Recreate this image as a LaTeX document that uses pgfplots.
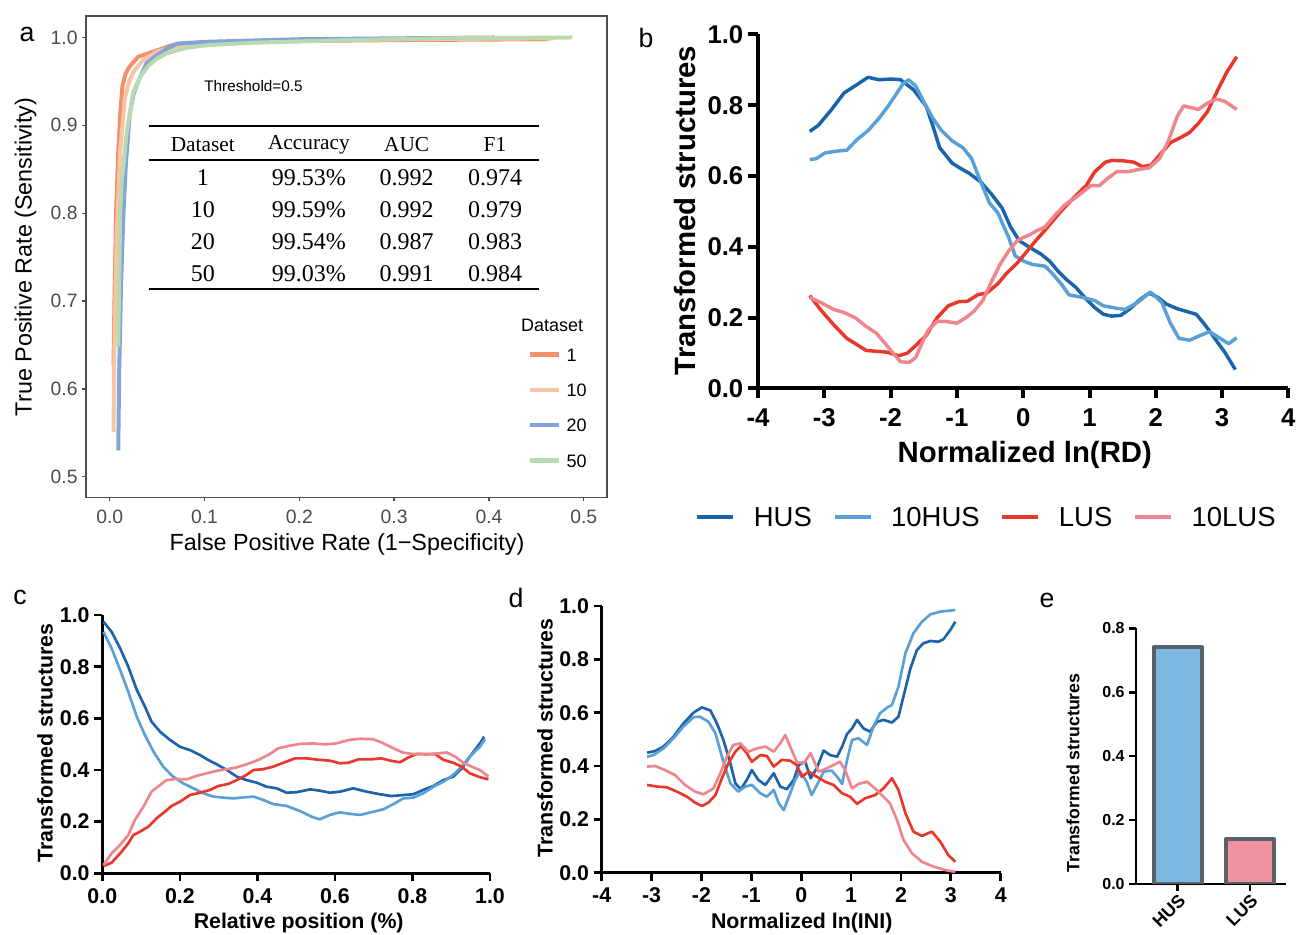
\documentclass[border=0pt]{standalone}
\usepackage{fontspec}
\setmainfont{Liberation Sans}
\newfontfamily\tabfont{Liberation Serif}
\usepackage{pgfplots}
\pgfplotsset{compat=1.18}

\definecolor{dOne}{HTML}{F3906C}
\definecolor{dTen}{HTML}{F5C6A6}
\definecolor{dTwenty}{HTML}{83A3DA}
\definecolor{dFifty}{HTML}{B9DAAE}
\definecolor{hus}{HTML}{1B63AB}
\definecolor{hus10}{HTML}{5A9FD5}
\definecolor{lus}{HTML}{E8382B}
\definecolor{lus10}{HTML}{F0868D}
\definecolor{barHUS}{HTML}{7DB8E3}
\definecolor{barLUS}{HTML}{F0939E}
\definecolor{barEdge}{HTML}{5A6269}
\definecolor{ggframe}{HTML}{4D4D4D}

\newcommand{\fs}[1]{\fontsize{#1}{#1}\selectfont}

\pgfplotsset{
  /pgf/number format/assume math mode=true,
  onedec/.style={/pgf/number format/fixed, /pgf/number format/fixed zerofill, /pgf/number format/precision=1},
  prism/.style={
    scale only axis, anchor=south west,
    axis lines=left, axis line style={-, black, line width=#1},
    tick align=outside, major tick length=6pt,
    tick style={black, line width=#1},
    enlargelimits=false,
    yticklabel style={onedec},
    every axis plot/.append style={no markers, line join=round},
  },
}

\begin{document}
\begin{tikzpicture}[x=0.75pt, y=0.75pt]
\useasboundingbox (0,0) rectangle (1297,935);

% ---------------- a: ROC ----------------
\begin{axis}[
  scale only axis, anchor=south west, at={(64.725pt,328.125pt)},
  width=390.3pt, height=361.35pt,
  xmin=-0.0247, xmax=0.5242, ymin=0.4764, ymax=1.0248,
  axis line style={ggframe, line width=1.3pt},
  xtick={0,0.1,0.2,0.3,0.4,0.5}, ytick={0.5,0.6,0.7,0.8,0.9,1.0},
  tick pos=left, tick align=outside, major tick length=3pt,
  tick style={ggframe, line width=1pt},
  ticklabel style={font=\fs{14.5}, text=black!70},
  xticklabel style={onedec, yshift=-3pt}, yticklabel style={onedec},
  every axis plot/.append style={no markers, line width=3pt, line join=round},
  legend cell align=left,
  legend style={at={(0.8488,0.3105)}, anchor=north west, draw=none, fill=none,
    inner sep=0pt, outer sep=0pt, row sep=16.5pt,
    nodes={inner sep=0pt, text height=10pt, text depth=0pt, font=\fs{13.5}}},
  legend image code/.code={\draw[#1, line width=3.2pt] (0pt,0pt) -- (21.3pt,0pt); \path[draw=none, fill=none] (0pt,0pt) -- (27.3pt,0pt);},
]
\addplot[dOne] coordinates {(0.004,0.626) (0.005,0.70) (0.0067,0.80) (0.009,0.87) (0.0115,0.92) (0.0135,0.945) (0.0165,0.958) (0.0197,0.965) (0.025,0.972) (0.030,0.978) (0.046,0.984) (0.067,0.9915) (0.12,0.994) (0.2,0.996) (0.3,0.997) (0.463,0.998)};
\addlegendentry{1}
\addplot[dTen] coordinates {(0.004,0.551) (0.005,0.65) (0.0075,0.78) (0.011,0.87) (0.016,0.931) (0.02,0.948) (0.025,0.961) (0.035,0.974) (0.05,0.984) (0.07,0.99) (0.1,0.993) (0.2,0.996) (0.3,0.998) (0.469,0.999)};
\addlegendentry{10}
\addplot[dTwenty] coordinates {(0.009,0.530) (0.010,0.62) (0.012,0.72) (0.0144,0.798) (0.017,0.855) (0.021,0.912) (0.025,0.935) (0.030,0.950) (0.039,0.971) (0.05,0.98) (0.06,0.987) (0.071,0.993) (0.1,0.995) (0.2,0.998) (0.3,0.999) (0.406,1.0)};
\addlegendentry{20}
\addplot[dFifty] coordinates {(0.009,0.648) (0.010,0.72) (0.011,0.798) (0.0127,0.836) (0.018,0.893) (0.025,0.938) (0.032,0.955) (0.041,0.968) (0.05,0.976) (0.06,0.982) (0.08,0.988) (0.1,0.991) (0.15,0.994) (0.25,0.997) (0.35,0.999) (0.488,1.0)};
\addlegendentry{50}
\end{axis}

% table and notes inside panel a
\node[font=\fs{11.5}] at (253.5,848.6) {Threshold=0.5};
\draw[line width=1.4pt] (148.5,809) -- (539.4,809);
\draw[line width=1.4pt] (148.5,775.4) -- (539.4,775.4);
\draw[line width=1.4pt] (148.5,646.4) -- (539.4,646.4);
\begin{scope}[every node/.style={font=\tabfont\fs{16}}]
\node at (202.8,790.4) {Dataset};
\node at (308.9,790.4) {Accuracy};
\node at (406.7,790.4) {AUC};
\node at (495,790.4) {F1};
\end{scope}
\begin{scope}[every node/.style={font=\tabfont\fs{18}}]
\node at (202.8,757.1) {1};  \node at (308.9,757.1) {99.53\%}; \node at (406.7,757.1) {0.992}; \node at (495,757.1) {0.974};
\node at (202.8,725) {10};   \node at (308.9,725) {99.59\%};   \node at (406.7,725) {0.992};   \node at (495,725) {0.979};
\node at (202.8,693.2) {20}; \node at (308.9,693.2) {99.54\%}; \node at (406.7,693.2) {0.987}; \node at (495,693.2) {0.983};
\node at (202.8,661.8) {50}; \node at (308.9,661.8) {99.03\%}; \node at (406.7,661.8) {0.991}; \node at (495,661.8) {0.984};
\end{scope}
\node[anchor=west, inner sep=0pt, font=\fs{13.5}] at (520.8,609.3) {Dataset};
\node[font=\fs{17.5}] at (347,390.4) {False Positive Rate (1\textminus Specificity)};
\node[font=\fs{17.5}, rotate=90] at (25.7,678) {True Positive Rate (Sensitivity)};

% ---------------- b ----------------
\begin{axis}[
  prism=3pt, at={(568.5pt,410.025pt)}, width=397.8pt, height=265.4pt,
  xmin=-4, xmax=4, ymin=0, ymax=1,
  xtick={-4,-3,-2,-1,0,1,2,3,4}, ytick={0,0.2,0.4,0.6,0.8,1.0},
  major tick length=7.5pt,
  ticklabel style={font=\bfseries\fs{19.3}},
  xticklabel style={yshift=-4.5pt},
  every axis plot/.append style={line width=2.6pt},
  legend columns=4, legend cell align=left,
  legend style={at={(-0.1176,-0.3637)}, anchor=west, draw=none, fill=none,
    inner sep=0pt, outer sep=0pt,
    nodes={inner sep=0pt, text height=14.8pt, text depth=0pt, font=\fs{20.6}},
    /tikz/every even column/.append style={column sep=15.75pt}},
  legend image code/.code={\draw[#1] (0pt,0pt) -- (27pt,0pt); \path[draw=none, fill=none] (0pt,0pt) -- (42.4pt,0pt);},
]
\addplot[hus] coordinates {(-3.22,0.726) (-3.09,0.743) (-2.89,0.788) (-2.70,0.835) (-2.50,0.859) (-2.34,0.879) (-2.18,0.872) (-1.98,0.874) (-1.85,0.872) (-1.65,0.843) (-1.46,0.796) (-1.36,0.74) (-1.26,0.680) (-1.07,0.636) (-0.94,0.621) (-0.81,0.607) (-0.64,0.583) (-0.48,0.549) (-0.32,0.510) (-0.19,0.456) (-0.06,0.417) (0.10,0.398) (0.27,0.379) (0.40,0.359) (0.53,0.330) (0.66,0.306) (0.79,0.286) (0.95,0.252) (1.08,0.228) (1.21,0.209) (1.34,0.204) (1.47,0.206) (1.60,0.223) (1.77,0.252) (1.90,0.269) (2.03,0.257) (2.16,0.238) (2.32,0.225) (2.45,0.218) (2.61,0.209) (2.74,0.180) (2.87,0.146) (3.04,0.102) (3.20,0.053)};
\addlegendentry{HUS}
\addplot[hus10] coordinates {(-3.22,0.646) (-3.12,0.649) (-2.99,0.665) (-2.83,0.670) (-2.66,0.673) (-2.50,0.704) (-2.34,0.728) (-2.18,0.762) (-2.05,0.794) (-1.92,0.830) (-1.82,0.859) (-1.73,0.872) (-1.62,0.854) (-1.49,0.806) (-1.36,0.762) (-1.23,0.728) (-1.07,0.699) (-0.91,0.680) (-0.78,0.650) (-0.64,0.583) (-0.51,0.524) (-0.38,0.495) (-0.29,0.456) (-0.22,0.427) (-0.12,0.374) (0.01,0.359) (0.14,0.350) (0.33,0.345) (0.46,0.320) (0.59,0.291) (0.69,0.264) (0.89,0.257) (1.08,0.248) (1.21,0.233) (1.41,0.226) (1.54,0.223) (1.73,0.243) (1.92,0.272) (2.09,0.243) (2.22,0.184) (2.35,0.141) (2.51,0.136) (2.68,0.150) (2.81,0.160) (2.97,0.141) (3.10,0.126) (3.22,0.143)};
\addlegendentry{10HUS}
\addplot[lus] coordinates {(-3.22,0.262) (-3.06,0.223) (-2.86,0.180) (-2.66,0.141) (-2.53,0.126) (-2.37,0.107) (-2.18,0.104) (-2.05,0.102) (-1.88,0.092) (-1.75,0.099) (-1.62,0.121) (-1.46,0.150) (-1.30,0.199) (-1.13,0.233) (-0.97,0.245) (-0.84,0.246) (-0.68,0.265) (-0.55,0.269) (-0.38,0.296) (-0.25,0.325) (-0.09,0.354) (0.04,0.383) (0.17,0.413) (0.33,0.447) (0.50,0.485) (0.66,0.519) (0.82,0.549) (0.95,0.573) (1.08,0.612) (1.24,0.639) (1.34,0.644) (1.50,0.643) (1.67,0.639) (1.80,0.626) (1.93,0.631) (2.06,0.660) (2.22,0.694) (2.38,0.709) (2.51,0.723) (2.64,0.748) (2.78,0.782) (2.94,0.845) (3.07,0.893) (3.22,0.937)};
\addlegendentry{LUS}
\addplot[lus10] coordinates {(-3.22,0.257) (-3.06,0.243) (-2.86,0.223) (-2.70,0.214) (-2.53,0.199) (-2.37,0.175) (-2.21,0.155) (-2.08,0.126) (-1.95,0.097) (-1.85,0.075) (-1.72,0.073) (-1.62,0.087) (-1.52,0.131) (-1.43,0.165) (-1.30,0.189) (-1.17,0.189) (-1.00,0.184) (-0.87,0.199) (-0.74,0.218) (-0.61,0.248) (-0.48,0.301) (-0.35,0.350) (-0.22,0.388) (-0.09,0.417) (0.01,0.427) (0.10,0.434) (0.20,0.445) (0.33,0.456) (0.46,0.485) (0.63,0.519) (0.79,0.539) (0.92,0.558) (1.02,0.573) (1.15,0.573) (1.28,0.594) (1.41,0.612) (1.58,0.612) (1.73,0.618) (1.90,0.623) (2.06,0.650) (2.19,0.699) (2.32,0.767) (2.42,0.798) (2.51,0.794) (2.64,0.788) (2.78,0.806) (2.91,0.817) (3.04,0.811) (3.22,0.788)};
\addlegendentry{10LUS}
\end{axis}
\node[font=\bfseries\fs{22}] at (1024.8,480) {Normalized ln(RD)};
\node[font=\bfseries\fs{22}, rotate=90] at (684.8,724.5) {Transformed structures};

% ---------------- c ----------------
\begin{axis}[
  prism=2pt, at={(76.725pt,46.275pt)}, width=290.8pt, height=193.7pt,
  xmin=0, xmax=1, ymin=0, ymax=1,
  xtick={0,0.2,0.4,0.6,0.8,1.0}, ytick={0,0.2,0.4,0.6,0.8,1.0},
  ticklabel style={font=\bfseries\fs{16}},
  xticklabel style={onedec, yshift=-2pt},
  every axis plot/.append style={line width=2pt},
]
\addplot[hus] coordinates {(0.003,0.974) (0.024,0.935) (0.046,0.871) (0.067,0.800) (0.089,0.710) (0.110,0.645) (0.127,0.587) (0.149,0.548) (0.175,0.516) (0.200,0.490) (0.226,0.477) (0.252,0.458) (0.273,0.439) (0.295,0.422) (0.321,0.400) (0.347,0.374) (0.372,0.361) (0.398,0.351) (0.424,0.335) (0.450,0.329) (0.475,0.312) (0.501,0.314) (0.536,0.325) (0.561,0.320) (0.587,0.312) (0.613,0.316) (0.647,0.329) (0.682,0.316) (0.716,0.306) (0.746,0.299) (0.776,0.303) (0.802,0.306) (0.828,0.323) (0.854,0.338) (0.880,0.361) (0.905,0.374) (0.927,0.406) (0.948,0.452) (0.974,0.503) (0.985,0.529)};
\addplot[hus10] coordinates {(0.003,0.935) (0.024,0.871) (0.046,0.787) (0.067,0.703) (0.089,0.606) (0.110,0.535) (0.132,0.471) (0.157,0.413) (0.183,0.374) (0.209,0.348) (0.235,0.329) (0.261,0.310) (0.286,0.297) (0.312,0.293) (0.338,0.290) (0.364,0.294) (0.390,0.297) (0.415,0.284) (0.441,0.268) (0.475,0.261) (0.510,0.241) (0.540,0.219) (0.561,0.209) (0.587,0.226) (0.613,0.236) (0.639,0.230) (0.665,0.226) (0.690,0.235) (0.725,0.248) (0.751,0.268) (0.776,0.290) (0.802,0.293) (0.828,0.310) (0.854,0.335) (0.880,0.355) (0.905,0.381) (0.927,0.413) (0.948,0.452) (0.974,0.490) (0.987,0.519)};
\addplot[lus] coordinates {(0.003,0.028) (0.024,0.041) (0.046,0.077) (0.067,0.116) (0.080,0.148) (0.097,0.161) (0.119,0.181) (0.140,0.213) (0.162,0.239) (0.179,0.261) (0.200,0.277) (0.226,0.303) (0.252,0.312) (0.278,0.323) (0.299,0.338) (0.325,0.346) (0.347,0.361) (0.372,0.381) (0.390,0.400) (0.415,0.403) (0.441,0.413) (0.467,0.428) (0.497,0.445) (0.527,0.445) (0.561,0.439) (0.587,0.436) (0.613,0.426) (0.635,0.428) (0.660,0.441) (0.690,0.441) (0.720,0.445) (0.746,0.435) (0.768,0.430) (0.789,0.448) (0.811,0.462) (0.837,0.461) (0.858,0.462) (0.880,0.439) (0.905,0.428) (0.927,0.413) (0.948,0.387) (0.974,0.372) (0.996,0.364)};
\addplot[lus10] coordinates {(0.003,0.032) (0.024,0.077) (0.046,0.110) (0.067,0.148) (0.084,0.206) (0.106,0.258) (0.127,0.316) (0.149,0.342) (0.166,0.361) (0.192,0.365) (0.218,0.364) (0.243,0.377) (0.269,0.387) (0.295,0.397) (0.321,0.403) (0.347,0.410) (0.372,0.422) (0.402,0.439) (0.428,0.458) (0.454,0.484) (0.480,0.493) (0.510,0.501) (0.544,0.503) (0.574,0.499) (0.604,0.503) (0.635,0.516) (0.665,0.521) (0.699,0.519) (0.725,0.503) (0.751,0.484) (0.776,0.467) (0.802,0.462) (0.828,0.462) (0.854,0.462) (0.888,0.468) (0.910,0.452) (0.931,0.428) (0.957,0.410) (0.974,0.400) (0.996,0.374)};
\end{axis}
\node[font=\bfseries\fs{16}] at (298.7,12) {Relative position (\%)};
\node[font=\bfseries\fs{16}, rotate=90] at (45,192) {Transformed structures};

% ---------------- d ----------------
\begin{axis}[
  prism=2pt, at={(451.275pt,46.725pt)}, width=299.25pt, height=200pt,
  xmin=-4, xmax=4, ymin=0, ymax=1,
  xtick={-4,-3,-2,-1,0,1,2,3,4}, ytick={0,0.2,0.4,0.6,0.8,1.0},
  ticklabel style={font=\bfseries\fs{16}},
  xticklabel style={yshift=-2pt},
  every axis plot/.append style={line width=2pt},
]
\addplot[hus] coordinates {(-3.09,0.450) (-2.93,0.456) (-2.76,0.473) (-2.56,0.510) (-2.36,0.560) (-2.16,0.600) (-1.99,0.620) (-1.82,0.608) (-1.69,0.560) (-1.56,0.498) (-1.42,0.410) (-1.32,0.335) (-1.21,0.313) (-1.09,0.348) (-0.99,0.385) (-0.86,0.348) (-0.72,0.329) (-0.55,0.373) (-0.42,0.323) (-0.29,0.313) (-0.15,0.348) (-0.05,0.404) (0.08,0.416) (0.19,0.354) (0.31,0.391) (0.45,0.458) (0.58,0.441) (0.72,0.435) (0.82,0.473) (0.92,0.520) (1.02,0.541) (1.12,0.573) (1.25,0.541) (1.38,0.529) (1.52,0.566) (1.65,0.573) (1.82,0.563) (1.95,0.585) (2.05,0.660) (2.19,0.766) (2.32,0.835) (2.45,0.860) (2.59,0.869) (2.75,0.866) (2.85,0.875) (2.99,0.910) (3.09,0.941)};
\addplot[hus10] coordinates {(-3.09,0.435) (-2.96,0.441) (-2.76,0.466) (-2.56,0.504) (-2.36,0.548) (-2.16,0.583) (-2.03,0.585) (-1.86,0.566) (-1.72,0.523) (-1.59,0.435) (-1.42,0.335) (-1.26,0.304) (-1.12,0.323) (-0.99,0.329) (-0.82,0.298) (-0.69,0.285) (-0.55,0.310) (-0.45,0.260) (-0.35,0.235) (-0.22,0.298) (-0.12,0.348) (-0.02,0.379) (0.11,0.341) (0.21,0.291) (0.35,0.341) (0.45,0.379) (0.61,0.383) (0.72,0.360) (0.82,0.333) (0.92,0.423) (1.02,0.498) (1.15,0.504) (1.32,0.479) (1.45,0.548) (1.58,0.598) (1.72,0.619) (1.82,0.629) (1.95,0.698) (2.09,0.823) (2.25,0.898) (2.42,0.941) (2.59,0.969) (2.79,0.979) (3.09,0.985)};
\addplot[lus] coordinates {(-3.09,0.329) (-2.89,0.323) (-2.69,0.320) (-2.49,0.304) (-2.29,0.285) (-2.13,0.263) (-1.99,0.250) (-1.86,0.263) (-1.72,0.291) (-1.59,0.354) (-1.46,0.410) (-1.32,0.454) (-1.21,0.475) (-1.09,0.448) (-0.99,0.416) (-0.82,0.441) (-0.69,0.438) (-0.55,0.398) (-0.39,0.423) (-0.22,0.420) (-0.09,0.404) (0.01,0.360) (0.15,0.379) (0.31,0.360) (0.48,0.341) (0.65,0.329) (0.82,0.298) (0.98,0.285) (1.12,0.258) (1.28,0.279) (1.48,0.291) (1.65,0.316) (1.82,0.354) (1.95,0.310) (2.09,0.223) (2.25,0.154) (2.42,0.138) (2.62,0.154) (2.79,0.116) (2.95,0.066) (3.09,0.041)};
\addplot[lus10] coordinates {(-3.09,0.398) (-2.93,0.400) (-2.73,0.385) (-2.53,0.366) (-2.33,0.329) (-2.13,0.304) (-1.96,0.294) (-1.76,0.316) (-1.62,0.373) (-1.49,0.435) (-1.36,0.479) (-1.22,0.485) (-1.06,0.454) (-0.89,0.466) (-0.72,0.473) (-0.55,0.454) (-0.42,0.485) (-0.32,0.516) (-0.22,0.473) (-0.09,0.416) (0.05,0.410) (0.19,0.448) (0.35,0.379) (0.51,0.391) (0.65,0.404) (0.78,0.416) (0.88,0.385) (1.02,0.316) (1.15,0.333) (1.32,0.341) (1.48,0.316) (1.65,0.285) (1.78,0.260) (1.92,0.198) (2.05,0.123) (2.22,0.073) (2.42,0.041) (2.65,0.023) (2.89,0.010) (3.09,0.003)};
\end{axis}
\node[font=\bfseries\fs{16}] at (801.7,12) {Normalized ln(INI)};
\node[font=\bfseries\fs{16}, rotate=90] at (545,197) {Transformed structures};

% ---------------- e ----------------
\begin{axis}[
  prism=2pt, at={(852pt,38.25pt)}, width=112.3pt, height=191.8pt,
  xmin=-0.577, xmax=1.494, ymin=0, ymax=0.8,
  xtick={0,1}, xticklabels={HUS,LUS}, ytick={0,0.2,0.4,0.6,0.8},
  major tick length=5pt,
  ticklabel style={font=\bfseries\fs{12}},
  xticklabel style={font=\bfseries\fs{13.4}, rotate=45, anchor=north east, inner sep=1pt},
  ybar, bar width=0.67, bar shift=0pt,
]
\addplot[fill=barHUS, draw=barEdge, line width=3pt, line join=round] coordinates {(0,0.74)};
\addplot[fill=barLUS, draw=barEdge, line width=3pt, line join=round] coordinates {(1,0.14)};
\end{axis}
\node[font=\bfseries\fs{13.3}, rotate=90] at (1073,162) {Transformed structures};

% panel letters
\node[font=\fs{20}] at (27,901) {a};
\node[font=\fs{20}] at (646,897) {b};
\node[font=\fs{20}] at (20,338) {c};
\node[font=\fs{20}] at (516,337) {d};
\node[font=\fs{20}] at (1047,335) {e};
\end{tikzpicture}
\end{document}
